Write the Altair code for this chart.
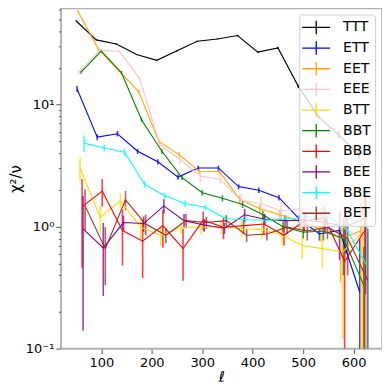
import altair as alt
import pandas as pd

# ---- data ----
series = ["TTT", "ETT", "EET", "EEE", "BTT", "BBT", "BBB", "BEE", "BBE", "BET"]
colors = ["black", "blue", "orange", "pink", "gold", "green", "red", "purple", "cyan", "brown"]
ell_bins = [50, 90, 130, 170, 210, 250, 290, 330, 370, 410, 450, 490, 530, 570, 610]
ell_shift = [0, 2, 4, 6, 8, 10, 12, 14, 16, 18]

ttt_vals = [48.8, 34.0, 31.5, 25.8, 23.1, 27.7, 33.1, 34.6, 36.9, 27.0, 29.2, 14.2, 7.98, 5.68, 3.90]
ttt_errs = [0.5, 0.4, 0.4, 0.3, 0.3, 0.4, 0.4, 0.4, 0.5, 0.5, 0.6, 0.4, 0.3, 0.4, 0.3]
ett_vals = [13.5, 5.42, 5.78, 4.15, 3.40, 2.55, 3.03, 3.03, 2.13, 1.99, 1.73, 1.16, 0.87, 0.93, 0.29]
ett_errs = [0.8, 0.3, 0.3, 0.2, 0.17, 0.13, 0.15, 0.15, 0.1, 0.1, 0.09, 0.08, 0.1, 0.4, 0.5]
eet_vals = [58.0, 28.7, 19.1, 12.8, 5.0, 3.9, 2.85, 2.83, 1.68, 1.40, 1.25, 1.10, 0.95, 0.80, 0.92]
eet_errs = [1.5, 0.8, 0.5, 0.4, 0.2, 0.2, 0.15, 0.15, 0.12, 0.12, 0.12, 0.15, 0.2, 0.45, 0.9]
eee_vals = [18.5, 27.8, 27.4, 16.4, 4.7, 3.55, 2.60, 2.44, 1.65, 1.55, 1.35, 1.40, 1.35, 1.0, 0.8]
eee_errs = [0.8, 0.8, 0.7, 0.5, 0.3, 0.3, 0.25, 0.2, 0.2, 0.2, 0.25, 0.3, 0.3, 0.6, 0.8]
btt_vals = [3.03, 1.19, 1.63, 0.99, 0.85, 0.99, 0.99, 1.0, 0.96, 0.95, 0.85, 0.70, 0.66, 0.62, 0.90]
btt_errs = [0.65, 0.3, 0.25, 0.2, 0.15, 0.12, 0.12, 0.12, 0.15, 0.15, 0.15, 0.15, 0.2, 0.5, 0.9]
bbt_vals = [18.5, 27.5, 18.3, 7.5, 4.15, 2.52, 1.90, 1.71, 1.52, 1.25, 1.0, 0.90, 0.92, 0.80, 0.33]
bbt_errs = [0.6, 0.8, 0.6, 0.3, 0.2, 0.12, 0.1, 0.1, 0.1, 0.1, 0.1, 0.1, 0.15, 0.4, 0.35]
bbb_vals = [1.46, 1.96, 0.93, 0.76, 1.02, 0.66, 1.13, 0.99, 1.02, 1.05, 0.85, 1.11, 1.19, 0.52, 0.93]
bbb_errs = [1.0, 0.5, 0.45, 0.38, 0.35, 0.3, 0.2, 0.2, 0.15, 0.2, 0.15, 0.2, 0.3, 0.5, 0.9]
bee_vals = [0.96, 0.67, 1.08, 1.06, 1.48, 1.12, 1.03, 0.97, 1.25, 1.15, 1.12, 1.13, 1.08, 1.0, 1.18]
bee_errs = [0.82, 0.40, 0.15, 0.15, 0.2, 0.15, 0.12, 0.1, 0.15, 0.12, 0.12, 0.12, 0.15, 0.4, 0.9]
bbe_vals = [4.84, 4.41, 4.08, 2.22, 1.79, 1.55, 1.44, 1.16, 1.14, 1.13, 1.16, 1.19, 1.23, 0.95, 0.48]
bbe_errs = [0.75, 0.3, 0.3, 0.15, 0.1, 0.1, 0.08, 0.08, 0.08, 0.08, 0.08, 0.1, 0.15, 0.35, 0.6]
bet_vals = [1.48, 0.66, 1.66, 1.05, 0.85, 1.12, 1.08, 1.12, 0.85, 0.87, 0.99, 0.92, 0.99, 0.80, 0.36]
bet_errs = [0.55, 0.33, 0.3, 0.2, 0.12, 0.15, 0.12, 0.12, 0.1, 0.1, 0.12, 0.15, 0.2, 0.4, 0.6]

all_vals = [ttt_vals, ett_vals, eet_vals, eee_vals, btt_vals, bbt_vals, bbb_vals, bee_vals, bbe_vals, bet_vals]
all_errs = [ttt_errs, ett_errs, eet_errs, eee_errs, btt_errs, bbt_errs, bbb_errs, bee_errs, bbe_errs, bet_errs]

rows = []
for i, name in enumerate(series):
    for k, ell in enumerate(ell_bins):
        v = all_vals[i][k]
        e = all_errs[i][k]
        rows.append({
            "series": name, "order": i, "ell": ell + ell_shift[i], "chi": v,
            "lo": max(v - e, 0.01), "hi": v + e,
        })
df = pd.DataFrame(rows)

decades = "datum.value == 0.1 || datum.value == 1 || datum.value == 10"
ytick_vals = [0.1, 0.2, 0.3, 0.4, 0.5, 0.6, 0.7, 0.8, 0.9, 1, 2, 3, 4, 5, 6, 7, 8, 9, 10, 20, 30, 40, 50, 60]

xscale = alt.Scale(domain=[20, 656], nice=False, zero=False)
yscale = alt.Scale(type="log", domain=[0.1, 61.5], nice=False)
cscale = alt.Scale(domain=series, range=colors)

xaxis = alt.Axis(values=[100, 200, 300, 400, 500, 600], title="ℓ", titleFontStyle="italic",
                 titleFontSize=15, titleFontWeight="normal", titlePadding=0, labelFontSize=13,
                 tickSize=5, labelPadding=3, grid=False)
yaxis = alt.Axis(values=ytick_vals, title="χ²/ν", titleFontSize=15, titleFontWeight="normal",
                 labelExpr="datum.value == 0.1 ? '10⁻¹' : datum.value == 1 ? '10⁰' : datum.value == 10 ? '10¹' : ''",
                 labelFontSize=13, grid=False, titlePadding=2,
                 tickSize={"condition": {"test": decades, "value": 5}, "value": 2.5})

legend = alt.Legend(
    title=None, orient="none", legendX=239, legendY=6, padding=3,
    fillColor="rgba(255,255,255,0.8)", strokeColor="#d0d0d0", cornerRadius=3,
    symbolType="M-1.1,0H2M0.45,-0.75V0.75", symbolSize=324, symbolStrokeWidth=1.3,
    symbolOpacity=1, symbolFillColor="transparent", labelFontSize=14, labelOffset=21,
    rowPadding=0.7, labelColor="black")

base = alt.Chart(df)

lines = base.mark_line(strokeWidth=1.1, clip=True).encode(
    x=alt.X("ell:Q", scale=xscale, axis=xaxis),
    y=alt.Y("chi:Q", scale=yscale, axis=yaxis),
    color=alt.Color("series:N", scale=cscale, sort=series, legend=legend),
    order="order:Q",
    detail="series:N",
)

bars = base.mark_rule(strokeWidth=1.6, opacity=0.75, clip=True).encode(
    x=alt.X("ell:Q", scale=xscale),
    y=alt.Y("lo:Q", scale=yscale),
    y2="hi:Q",
    color=alt.Color("series:N", scale=cscale, sort=series, legend=legend),
)

chart = alt.layer(bars, lines).properties(
    width=322, height=341,
    autosize=alt.AutoSizeParams(type="none"),
    padding={"left": 53, "top": 0, "right": 0, "bottom": 36},
).configure_view(
    stroke="#b0b0b0", strokeWidth=1.5
).configure_axis(
    domainColor="#b0b0b0", tickColor="#555555", labelFont="DejaVu Sans", titleFont="DejaVu Sans",
    labelColor="black", titleColor="black"
).configure_legend(
    labelFont="DejaVu Sans"
)

chart.save("out.html", embed_options={"renderer": "svg", "actions": False})
